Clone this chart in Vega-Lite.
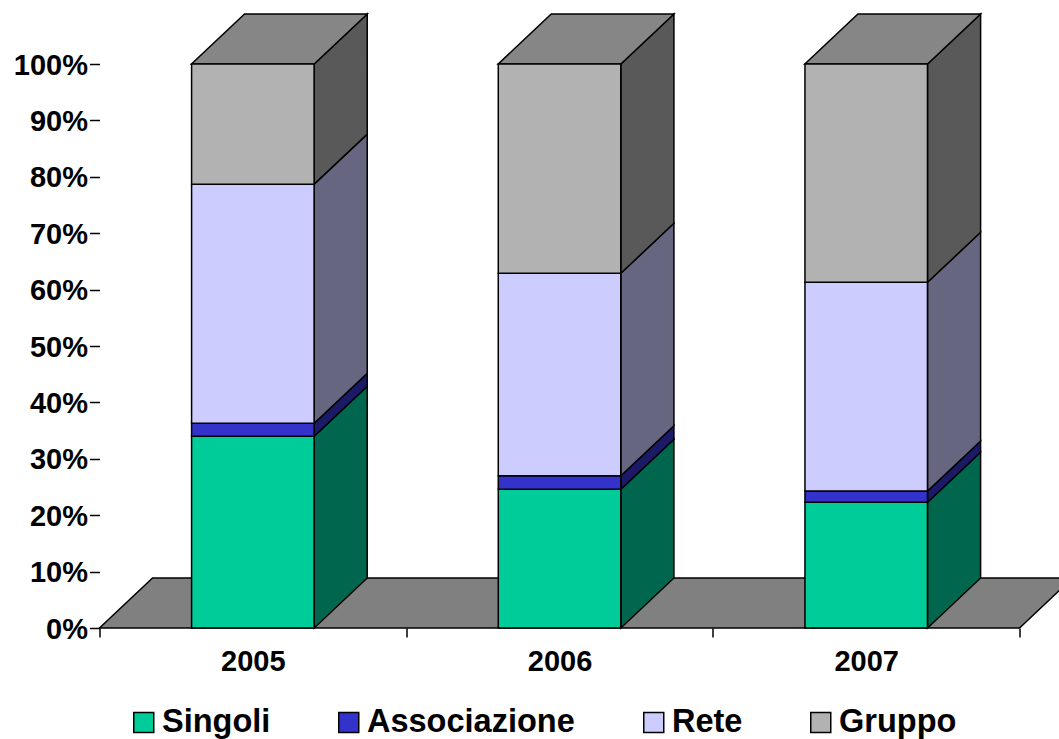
{
"$schema":"https://vega.github.io/schema/vega-lite/v6.json",
"width":959,"height":614,
"padding":{"left":99.5,"top":14,"right":0,"bottom":111},
"autosize":{"type":"none"},
"background":"white",
"config":{"view":{"stroke":null},"font":"Liberation Sans"},
"datasets":{
"pavimento":[
{"posizione":2004.5,"y":0,"y2":0},
{"posizione":2004.673,"y":0,"y2":8.87},
{"posizione":2007.5,"y":0,"y2":8.87},
{"posizione":2007.673,"y":8.87,"y2":8.87}],
"fronte":[
{"posizione":2005,"serie":"Singoli","y":0,"y2":34.0},
{"posizione":2005,"serie":"Associazione","y":34.0,"y2":36.3},
{"posizione":2005,"serie":"Rete","y":36.3,"y2":78.7},
{"posizione":2005,"serie":"Gruppo","y":78.7,"y2":100},
{"posizione":2006,"serie":"Singoli","y":0,"y2":24.6},
{"posizione":2006,"serie":"Associazione","y":24.6,"y2":27.0},
{"posizione":2006,"serie":"Rete","y":27.0,"y2":62.9},
{"posizione":2006,"serie":"Gruppo","y":62.9,"y2":100},
{"posizione":2007,"serie":"Singoli","y":0,"y2":22.3},
{"posizione":2007,"serie":"Associazione","y":22.3,"y2":24.3},
{"posizione":2007,"serie":"Rete","y":24.3,"y2":61.3},
{"posizione":2007,"serie":"Gruppo","y":61.3,"y2":100}],
"lati":[
{"anno":2005,"serie":"Singoli","posizione":2005.2,"y":0,"y2":34.0},
{"anno":2005,"serie":"Singoli","posizione":2005.373,"y":8.87,"y2":42.87},
{"anno":2005,"serie":"Associazione","posizione":2005.2,"y":34.0,"y2":36.3},
{"anno":2005,"serie":"Associazione","posizione":2005.373,"y":42.87,"y2":45.17},
{"anno":2005,"serie":"Rete","posizione":2005.2,"y":36.3,"y2":78.7},
{"anno":2005,"serie":"Rete","posizione":2005.373,"y":45.17,"y2":87.57},
{"anno":2005,"serie":"Gruppo","posizione":2005.2,"y":78.7,"y2":100},
{"anno":2005,"serie":"Gruppo","posizione":2005.373,"y":87.57,"y2":108.87},
{"anno":2006,"serie":"Singoli","posizione":2006.2,"y":0,"y2":24.6},
{"anno":2006,"serie":"Singoli","posizione":2006.373,"y":8.87,"y2":33.47},
{"anno":2006,"serie":"Associazione","posizione":2006.2,"y":24.6,"y2":27.0},
{"anno":2006,"serie":"Associazione","posizione":2006.373,"y":33.47,"y2":35.87},
{"anno":2006,"serie":"Rete","posizione":2006.2,"y":27.0,"y2":62.9},
{"anno":2006,"serie":"Rete","posizione":2006.373,"y":35.87,"y2":71.77},
{"anno":2006,"serie":"Gruppo","posizione":2006.2,"y":62.9,"y2":100},
{"anno":2006,"serie":"Gruppo","posizione":2006.373,"y":71.77,"y2":108.87},
{"anno":2007,"serie":"Singoli","posizione":2007.2,"y":0,"y2":22.3},
{"anno":2007,"serie":"Singoli","posizione":2007.373,"y":8.87,"y2":31.17},
{"anno":2007,"serie":"Associazione","posizione":2007.2,"y":22.3,"y2":24.3},
{"anno":2007,"serie":"Associazione","posizione":2007.373,"y":31.17,"y2":33.17},
{"anno":2007,"serie":"Rete","posizione":2007.2,"y":24.3,"y2":61.3},
{"anno":2007,"serie":"Rete","posizione":2007.373,"y":33.17,"y2":70.17},
{"anno":2007,"serie":"Gruppo","posizione":2007.2,"y":61.3,"y2":100},
{"anno":2007,"serie":"Gruppo","posizione":2007.373,"y":70.17,"y2":108.87}],
"tetti":[
{"anno":2005,"posizione":2004.8,"y":100,"y2":100},
{"anno":2005,"posizione":2004.973,"y":100,"y2":108.87},
{"anno":2005,"posizione":2005.2,"y":100,"y2":108.87},
{"anno":2005,"posizione":2005.373,"y":108.87,"y2":108.87},
{"anno":2006,"posizione":2005.8,"y":100,"y2":100},
{"anno":2006,"posizione":2005.973,"y":100,"y2":108.87},
{"anno":2006,"posizione":2006.2,"y":100,"y2":108.87},
{"anno":2006,"posizione":2006.373,"y":108.87,"y2":108.87},
{"anno":2007,"posizione":2006.8,"y":100,"y2":100},
{"anno":2007,"posizione":2006.973,"y":100,"y2":108.87},
{"anno":2007,"posizione":2007.2,"y":100,"y2":108.87},
{"anno":2007,"posizione":2007.373,"y":108.87,"y2":108.87}]
},
"encoding":{
"x":{"field":"posizione","type":"quantitative","title":null,
"scale":{"domain":[2004.5,2007.627],"nice":false,"zero":false},
"axis":{"values":[2004.5,2005,2005.5,2006,2006.5,2007,2007.5],"domain":false,"grid":false,"tickColor":"black","tickWidth":1.5,"tickSize":9,
"tickOpacity":{"condition":{"test":"datum.value % 1 == 0","value":0},"value":1},
"labelExpr":"datum.value % 1 == 0 ? '' + datum.value : ''","labelOverlap":false,"labelFlush":false,"labelFontSize":29,"labelFontWeight":"bold","labelColor":"black","labelPadding":10,"labelFont":"Liberation Sans"}},
"y":{"field":"y","type":"quantitative","title":null,
"scale":{"domain":[0,108.87],"nice":false,"zero":false},
"axis":{"values":[0,10,20,30,40,50,60,70,80,90,100],"domain":false,"grid":false,"tickColor":"black","tickWidth":1.5,"tickSize":10,
"labelExpr":"datum.value + '%'","labelOverlap":false,"labelFlush":false,"labelFontSize":29,"labelFontWeight":"bold","labelColor":"black","labelPadding":2,"labelOffset":1,"labelFont":"Liberation Sans"}},
"y2":{"field":"y2"}
},
"layer":[
{"data":{"name":"pavimento"},"mark":{"type":"area","fill":"#808080","stroke":"black","strokeWidth":1.5}},
{"data":{"name":"lati"},"mark":{"type":"area","stroke":"black","strokeWidth":1.5},
 "encoding":{"detail":{"field":"anno"},"y":{"field":"y","type":"quantitative","stack":null},
 "color":{"field":"serie","type":"nominal","legend":null,
 "scale":{"domain":["Singoli","Associazione","Rete","Gruppo"],"range":["#00664D","#1A1A66","#666680","#595959"]}}}},
{"data":{"name":"tetti"},"mark":{"type":"area","fill":"#868686","stroke":"black","strokeWidth":1.5},
 "encoding":{"detail":{"field":"anno"}}},
{"data":{"name":"fronte"},"mark":{"type":"rect","width":122.5,"stroke":"black","strokeWidth":1.5},
 "encoding":{"color":{"field":"serie","type":"nominal",
 "scale":{"domain":["Singoli","Associazione","Rete","Gruppo"],"range":["#00CC99","#3333CC","#CCCCFF","#B2B2B2"]},
 "legend":{"title":null,"orient":"none","legendX":28,"legendY":692,"direction":"horizontal","columns":4,"symbolType":"square","symbolSize":400,"symbolStrokeColor":"black","symbolStrokeWidth":1.5,"symbolOpacity":1,"labelFontSize":32.5,"labelFontWeight":"bold","labelColor":"black","labelFont":"Liberation Sans","labelOffset":2,"columnPadding":62,"labelLimit":400}}}},
{"data":{"values":[{"a":1}]},"mark":{"type":"rule","color":"black","strokeWidth":1.5},
 "encoding":{"x":{"datum":2004.5},"y":{"datum":0},"y2":{"datum":100}}},
{"data":{"values":[{"a":1}]},"mark":{"type":"rule","color":"black","strokeWidth":1.5},
 "encoding":{"x":{"datum":2004.5},"x2":{"datum":2007.5},"y":{"datum":0},"y2":null}}
],
"resolve":{"scale":{"color":"independent"}}
}
